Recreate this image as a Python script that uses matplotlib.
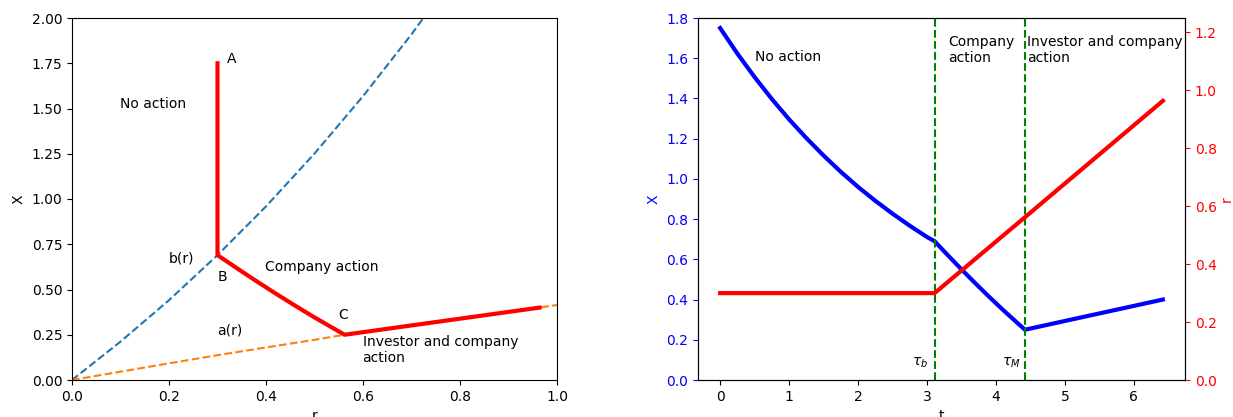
import matplotlib
matplotlib.use("Agg")
import matplotlib.pyplot as plt

# ---- data ----
# trajectory (time, X, r)
t_vals = [0.0, 0.25, 0.5, 0.75, 1.0, 1.25, 1.5, 1.75, 2.0, 2.25, 2.5, 2.75, 3.0, 3.11,
          3.3, 3.5, 3.7, 3.9, 4.1, 4.3, 4.42, 6.42]
X_vals = [1.750, 1.623, 1.506, 1.397, 1.296, 1.203, 1.116, 1.035, 0.960, 0.891, 0.827,
          0.767, 0.711, 0.690,
          0.621, 0.550, 0.481, 0.414, 0.349, 0.287, 0.250, 0.400]
r_vals = [0.3, 0.3, 0.3, 0.3, 0.3, 0.3, 0.3, 0.3, 0.3, 0.3, 0.3, 0.3, 0.3, 0.3,
          0.338, 0.378, 0.418, 0.458, 0.498, 0.538, 0.562, 0.964]

# boundary b(r)
b_r = [0.0, 0.1, 0.2, 0.3, 0.4, 0.5, 0.6, 0.7, 0.76]
b_X = [0.0, 0.212, 0.441, 0.690, 0.959, 1.251, 1.568, 1.910, 2.130]

# boundary a(r)
a_r = [0.0, 0.1, 0.2, 0.3, 0.4, 0.5, 0.562, 0.7, 0.8, 0.9, 1.0, 1.05]
a_X = [0.0, 0.046, 0.092, 0.137, 0.180, 0.222, 0.250, 0.305, 0.342, 0.378, 0.414, 0.432]

tau_b = 3.11
tau_M = 4.42

fig = plt.figure(figsize=(12.33, 4.17), dpi=100)

# ---- left panel ----
ax1 = fig.add_axes([72/1233, 37/417, 485/1233, 362/417])
ax1.plot(b_r, b_X, linestyle='--', color='tab:blue', lw=1.5)
ax1.plot(a_r, a_X, linestyle='--', color='tab:orange', lw=1.5)
ax1.plot(r_vals, X_vals, color='red', lw=3)
ax1.set_xlim(0, 1.0)
ax1.set_ylim(0, 2.0)
ax1.set_xlabel('r')
ax1.set_ylabel('X')
ax1.text(0.167, 1.525, 'No action', ha='center', va='center')
ax1.text(0.330, 1.774, 'A', ha='center', va='center')
ax1.text(0.225, 0.674, 'b(r)', ha='center', va='center')
ax1.text(0.310, 0.570, 'B', ha='center', va='center')
ax1.text(0.514, 0.624, 'Company action', ha='center', va='center')
ax1.text(0.560, 0.359, 'C', ha='center', va='center')
ax1.text(0.325, 0.274, 'a(r)', ha='center', va='center')
ax1.text(0.599, 0.166, 'Investor and company\naction', ha='left', va='center')

# ---- right panel ----
ax2 = fig.add_axes([698/1233, 37/417, 487/1233, 362/417])
ax2.plot(t_vals, X_vals, color='blue', lw=3)
ax2.set_ylim(0, 1.8)
ax2.set_xlabel('t')
ax2.set_ylabel('X', color='blue')
ax2.tick_params(axis='y', colors='blue')
ax2.axvline(tau_b, color='green', linestyle='--', lw=1.5)
ax2.axvline(tau_M, color='green', linestyle='--', lw=1.5)
ax2.text(0.51, 1.606, 'No action', ha='left', va='center')
ax2.text(3.31, 1.640, 'Company\naction', ha='left', va='center')
ax2.text(4.455, 1.640, 'Investor and company\naction', ha='left', va='center')
ax2.text(tau_b - 0.09, 0.085, r'$\tau_b$', ha='right', va='center')
ax2.text(tau_M - 0.07, 0.085, r'$\tau_M$', ha='right', va='center')

ax3 = ax2.twinx()
ax3.plot(t_vals, r_vals, color='red', lw=3)
ax3.set_ylim(0, 1.25)
ax3.set_ylabel('r', color='red', labelpad=2)
ax3.tick_params(axis='y', colors='red')
for sp in ax3.spines.values():
    sp.set_color('black')
for sp in ax2.spines.values():
    sp.set_color('black')

fig.savefig('out.png', dpi=100)
